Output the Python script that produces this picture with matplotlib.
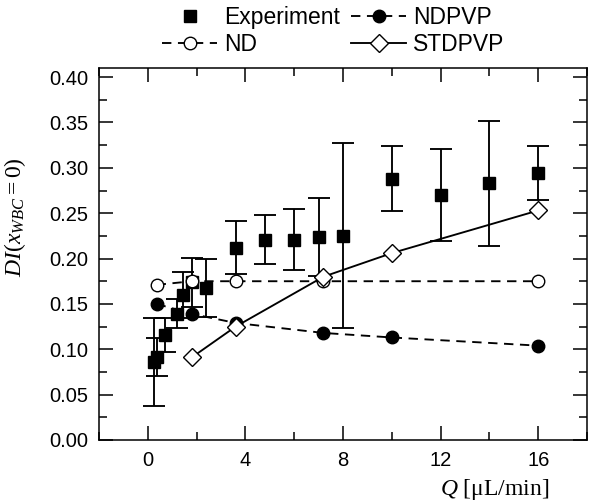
import matplotlib
matplotlib.use("Agg")
import matplotlib.pyplot as plt
from matplotlib.ticker import MultipleLocator

# experiment
q_exp = [0.24, 0.36, 0.72, 1.2, 1.44, 1.8, 2.4, 3.6, 4.8, 6.0, 7.0, 8.0, 10, 12, 14, 16]
di_exp = [0.086, 0.091, 0.116, 0.139, 0.160, 0.174, 0.168, 0.212, 0.221, 0.221, 0.224, 0.225, 0.288, 0.270, 0.283, 0.294]
err_exp = [0.048, 0.021, 0.019, 0.016, 0.025, 0.027, 0.032, 0.029, 0.027, 0.034, 0.043, 0.102, 0.036, 0.051, 0.069, 0.030]

# models
q_nd = [0.36, 1.8, 3.6, 7.2, 16]
di_nd = [0.171, 0.175, 0.175, 0.175, 0.175]

q_ndpvp = [0.36, 1.8, 3.6, 7.2, 10, 16]
di_ndpvp = [0.150, 0.139, 0.129, 0.118, 0.113, 0.104]

q_std = [1.8, 3.6, 7.2, 10, 16]
di_std = [0.091, 0.125, 0.180, 0.206, 0.253]

plt.rcParams['font.family'] = ['Liberation Sans', 'DejaVu Sans']
plt.rcParams['mathtext.fontset'] = 'custom'
plt.rcParams['mathtext.rm'] = 'Liberation Serif'
plt.rcParams['mathtext.it'] = 'Liberation Serif:italic'

fig = plt.figure(figsize=(5.98, 5.04), dpi=100)
ax = fig.add_axes([0.1656, 0.127, 0.816, 0.738])

lw = 1.35
dash = (0, (5, 3.5))

ax.errorbar(q_exp, di_exp, yerr=err_exp, fmt='none', ecolor='black',
            elinewidth=lw, capsize=8, capthick=lw, zorder=2)
ax.plot(q_exp, di_exp, 's', color='black', ms=8, label='Experiment', zorder=3)

ax.plot(q_nd, di_nd, color='black', ls=dash, lw=lw, marker='o', ms=9,
        mfc='white', mec='black', mew=1.0, label='ND', zorder=4)
ax.plot(q_ndpvp, di_ndpvp, color='black', ls=dash, lw=lw, marker='o', ms=9,
        mfc='black', mec='black', label='NDPVP', zorder=4)
ax.plot(q_std, di_std, color='black', ls='-', lw=lw, marker='D', ms=9,
        mfc='white', mec='black', mew=1.0, label='STDPVP', zorder=4)

ax.set_xlim(-2, 18)
ax.set_ylim(0, 0.41)
ax.xaxis.set_major_locator(MultipleLocator(4))
ax.xaxis.set_minor_locator(MultipleLocator(2))
ax.yaxis.set_major_locator(MultipleLocator(0.05))
ax.yaxis.set_minor_locator(MultipleLocator(0.025))
ax.yaxis.set_major_formatter(plt.FormatStrFormatter('%.2f'))

ax.tick_params(which='both', direction='in', top=True, right=True,
               width=1.1, labelsize=14.5)
ax.tick_params(which='major', length=10, pad=8)
ax.tick_params(which='minor', length=5.5)
for s in ax.spines.values():
    s.set_linewidth(1.1)

ax.set_xlabel(r'$Q$ [$\mathrm{\mu}$L/min]', fontsize=17, family='Liberation Serif')
ax.xaxis.set_label_coords(0.81, -0.1)
ax.set_ylabel(r'$DI\mathrm{(}x_{WBC}\mathrm{=0)}$', fontsize=17)
ax.yaxis.set_label_coords(-0.145, 0.6)

ax.legend(loc='lower center', bbox_to_anchor=(0.48, 0.995), ncol=2, frameon=False,
          fontsize=16.5, handlelength=2.4, handletextpad=0.3, columnspacing=0.5,
          labelspacing=0.2, borderpad=0.1)

fig.savefig('out.png', dpi=100)
